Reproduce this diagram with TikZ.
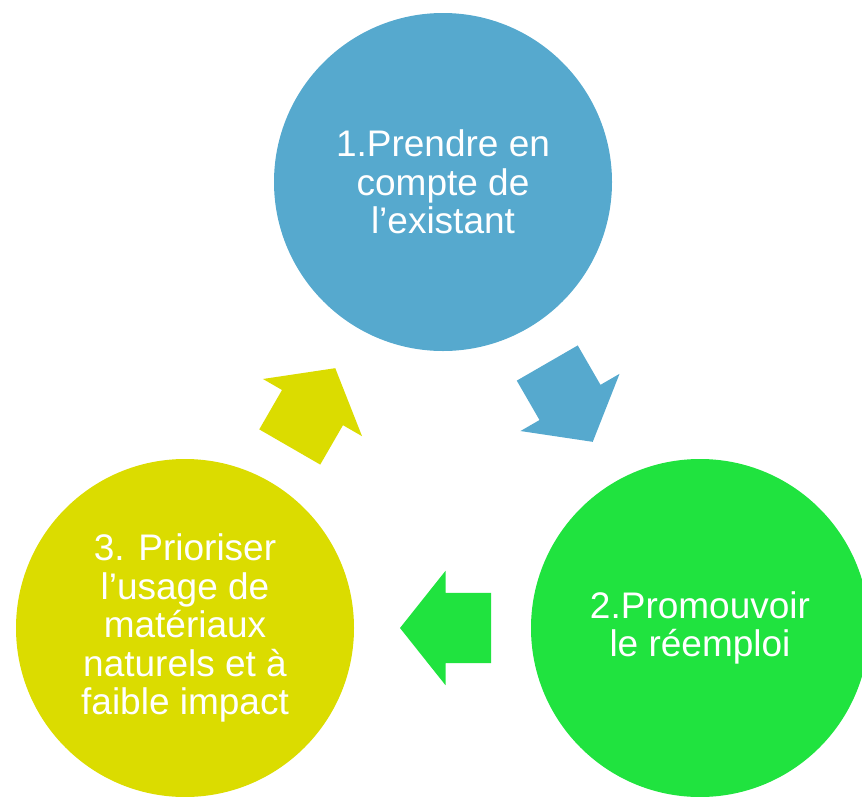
\documentclass[tikz,border=0pt]{standalone}
\usepackage{fontspec}
\setmainfont{Liberation Sans}
\usetikzlibrary{calc,shapes.arrows}

\definecolor{stepblue}{RGB}{86,169,206}
\definecolor{stepgreen}{RGB}{32,227,63}
\definecolor{stepyellow}{RGB}{219,220,0}

\tikzset{
  stage/.style={circle,minimum size=338pt,inner sep=0pt,text=white,align=center,
    font=\fontsize{37}{38.5}\selectfont},
  cyclearrow/.style={single arrow,inner xsep=0pt,inner ysep=35pt,minimum height=91pt,
    single arrow head extend=22pt,single arrow tip angle=103}
}

\begin{document}
\begin{tikzpicture}[x=1pt,y=-1pt]
  \useasboundingbox (0,0) rectangle (862,796);
  \clip (0,0) rectangle (862,796);
  \node[stage,fill=stepblue] (existant) at (443,182) {1.Prendre en\\compte de\\l’existant};
  \node[stage,fill=stepgreen] (reemploi) at (700,628) {2.Promouvoir\\le réemploi};
  \node[stage,fill=stepyellow] (materiaux) at (185,628) {3. Prioriser\\l’usage de\\matériaux\\naturels et à\\faible impact};
  % arrows sit half way between the circles
  \node[cyclearrow,fill=stepblue,rotate=-60] (a12) at ($(existant)!0.5!(reemploi)+(-8.5,-14.7)$) {};
  \node[cyclearrow,fill=stepgreen,rotate=180] (a23) at ($(reemploi)!0.5!(materiaux)+(17,0)$) {};
  \node[cyclearrow,fill=stepyellow,rotate=60] (a31) at ($(materiaux)!0.5!(existant)+(-8.5,14.7)$) {};
\end{tikzpicture}
\end{document}
